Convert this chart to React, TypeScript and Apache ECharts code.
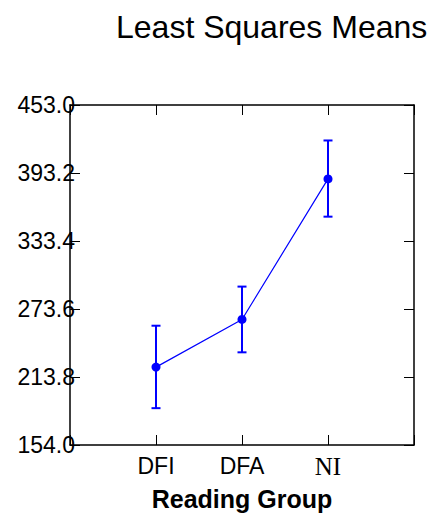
import React, { useEffect, useRef } from "react";
import * as echarts from "echarts";

const categories = ["DFI", "DFA", "NI"];
const means = [222.5, 264.4, 388.0];
const upper = [258.9, 293.3, 421.8];
const lower = [186.4, 235.5, 354.8];
const yTicks = [154.0, 213.8, 273.6, 333.4, 393.2, 453.0];

const BLUE = "#0000FF";

export default function App() {
  const ref = useRef<HTMLDivElement>(null);
  useEffect(() => {
    const chart = echarts.init(ref.current!, null, { renderer: "svg" });
    const lineData = categories.map((_, i) => [i + 1, means[i]]);
    const errData = categories.map((_, i) => [i + 1, lower[i], upper[i]]);
    const yMin = yTicks[0];
    const yMax = yTicks[yTicks.length - 1];
    const yInterval = +(yTicks[1] - yTicks[0]).toFixed(1);
    const xLabel = (v: number) => {
      const c = categories[v - 1];
      if (!c) return "";
      return c === "NI" ? "{s|" + c + "}" : "{a|" + c + "}";
    };
    chart.setOption({
      animation: false,
      backgroundColor: "#ffffff",
      title: {
        text: "Least Squares Means",
        left: 111,
        top: 6,
        textStyle: {
          fontFamily: "Liberation Sans, Arial, sans-serif",
          fontSize: 32,
          fontWeight: "normal",
          color: "#000",
        },
      },
      grid: { left: 70, right: 17, top: 105, bottom: 66, containLabel: false },
      xAxis: [
        {
          type: "value",
          min: 0,
          max: 4,
          interval: 1,
          position: "bottom",
          name: "Reading Group",
          nameLocation: "middle",
          nameGap: 41,
          nameTextStyle: {
            fontFamily: "Liberation Sans, Arial, sans-serif",
            fontSize: 25,
            fontWeight: "bold",
            color: "#000",
          },
          axisLine: { show: true, lineStyle: { color: "#000", width: 1.5 } },
          axisTick: { show: true, inside: true, length: 10, lineStyle: { color: "#000", width: 1 } },
          axisLabel: {
            margin: 9,
            formatter: xLabel,
            rich: {
              a: { fontFamily: "Liberation Sans, Arial, sans-serif", fontSize: 23, color: "#000" },
              s: { fontFamily: "Liberation Serif, Times New Roman, serif", fontSize: 25, color: "#000" },
            },
          },
          splitLine: { show: false },
        },
        {
          type: "value",
          min: 0,
          max: 4,
          interval: 1,
          position: "top",
          axisLine: { show: true, onZero: false, lineStyle: { color: "#000", width: 1.5 } },
          axisTick: { show: true, inside: true, length: 10, lineStyle: { color: "#000", width: 1 } },
          axisLabel: { show: false },
          splitLine: { show: false },
        },
      ],
      yAxis: [
        {
          type: "value",
          min: yMin,
          max: yMax,
          interval: yInterval,
          position: "left",
          axisLine: { show: true, onZero: false, lineStyle: { color: "#000", width: 1.5 } },
          axisTick: { show: true, inside: true, length: 10, lineStyle: { color: "#000", width: 1 } },
          axisLabel: {
            margin: -5,
            padding: [10, 0, 0, 0],
            fontFamily: "Liberation Sans, Arial, sans-serif",
            fontSize: 23,
            color: "#000",
            formatter: (v: number) => v.toFixed(1),
          },
          splitLine: { show: false },
        },
        {
          type: "value",
          min: yMin,
          max: yMax,
          interval: yInterval,
          position: "right",
          axisLine: { show: true, onZero: false, lineStyle: { color: "#000", width: 1.5 } },
          axisTick: { show: true, inside: true, length: 10, lineStyle: { color: "#000", width: 1 } },
          axisLabel: { show: false },
          splitLine: { show: false },
        },
      ],
      series: [
        {
          type: "custom",
          xAxisIndex: 0,
          yAxisIndex: 0,
          data: errData,
          renderItem: (params: any, api: any) => {
            const x = api.value(0);
            const lo = api.coord([x, api.value(1)]);
            const hi = api.coord([x, api.value(2)]);
            const hw = 4.5;
            const style = { stroke: BLUE, lineWidth: 2 };
            return {
              type: "group",
              children: [
                { type: "line", shape: { x1: lo[0], y1: lo[1], x2: hi[0], y2: hi[1] }, style },
                { type: "line", shape: { x1: lo[0] - hw, y1: lo[1], x2: lo[0] + hw, y2: lo[1] }, style },
                { type: "line", shape: { x1: hi[0] - hw, y1: hi[1], x2: hi[0] + hw, y2: hi[1] }, style },
              ],
            };
          },
          z: 2,
        },
        {
          type: "line",
          xAxisIndex: 0,
          yAxisIndex: 0,
          data: lineData,
          symbol: "circle",
          symbolSize: 9,
          lineStyle: { color: BLUE, width: 1.2 },
          itemStyle: { color: BLUE },
          z: 3,
        },
      ],
    });
    return () => chart.dispose();
  }, []);
  return <div ref={ref} style={{ width: 431, height: 516, position: "absolute", left: 0, top: 0 }} />;
}
